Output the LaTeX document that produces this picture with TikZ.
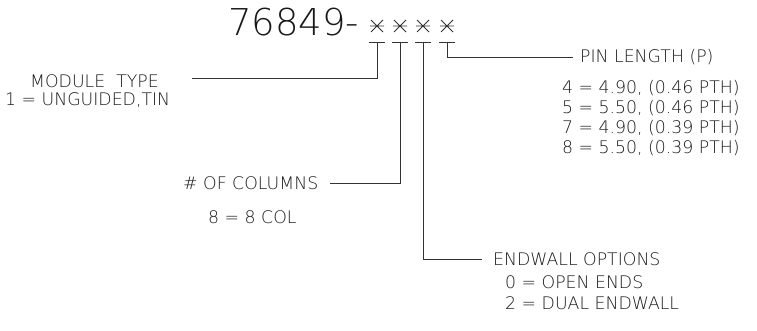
\documentclass[tikz,border=0pt]{standalone}
\usepackage{fontspec}
\setmainfont{DejaVu Sans}[UprightFont={* ExtraLight}]
\begin{document}
\begin{tikzpicture}[x=1pt,y=-1pt,
  lbl/.style={anchor=base west,inner sep=0pt,font=\fontsize{17.3}{20}\selectfont,text=black!90},
  ttl/.style={anchor=base west,inner sep=0pt,font=\fontsize{37}{40}\selectfont,text=black!90},
  ln/.style={line width=0.9pt,draw=black!80},
  starmark/.style={line width=0.8pt,draw=black!80}]
\useasboundingbox (0,0) rectangle (757,330);
% title
\node[ttl] (title) at (228,35) {76849-};
% stars and T bars
\foreach \i/\x in {1/377,2/400,3/423,4/447}{
  \coordinate (s\i) at (\x,26);
  \coordinate (t\i) at (\x,42);
  \draw[starmark,shift={(s\i)}] (-6,-6) -- (6,6) (-6,6) -- (6,-6) (-7,0) -- (7,0);
  \draw[ln,shift={(t\i)}] (-8,0) -- (8,0);
}
% leader end points
\coordinate (e1) at (192,78);
\coordinate (e2) at (330,183);
\coordinate (e3) at (482,259);
\coordinate (e4) at (573,57);
\draw[ln] (t1) |- (e1);
\draw[ln] (t2) |- (e2);
\draw[ln] (t3) |- (e3);
\draw[ln] (t4) |- (e4);
% labels
\node[lbl] (mt) at (30,87) {MODULE\ \ TYPE};
\node[lbl] (mt1) at (5,105) {1 = UNGUIDED,TIN};
\node[lbl] (pl) at (580,62) {PIN LENGTH (P)};
\node[lbl] (pl4) at (562,93) {4 = 4.90, (0.46 PTH)};
\node[lbl] (pl5) at (562,113) {5 = 5.50, (0.46 PTH)};
\node[lbl] (pl7) at (562,133) {7 = 4.90, (0.39 PTH)};
\node[lbl] (pl8) at (562,153) {8 = 5.50, (0.39 PTH)};
\node[lbl] (nc) at (183,189) {\# OF COLUMNS};
\node[lbl] (nc8) at (208,223) {8 = 8 COL};
\node[lbl] (ew) at (493,265) {ENDWALL OPTIONS};
\node[lbl] (ew0) at (505,288) {0 = OPEN ENDS};
\node[lbl] (ew2) at (505,309) {2 = DUAL ENDWALL};
\end{tikzpicture}
\end{document}
